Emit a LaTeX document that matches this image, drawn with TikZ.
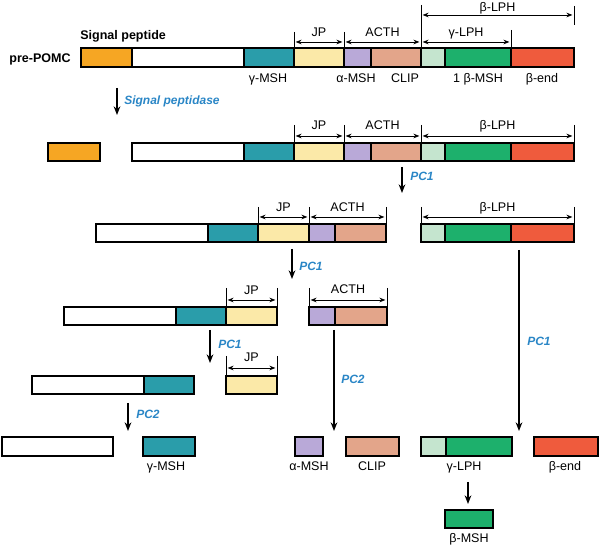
\documentclass[tikz,border=0pt]{standalone}
\usepackage{fontspec}
\setmainfont{Liberation Sans}
\usetikzlibrary{arrows.meta}
\definecolor{cOr}{HTML}{F6A623}
\definecolor{cTe}{HTML}{2A9DAA}
\definecolor{cYe}{HTML}{FBE9A8}
\definecolor{cPu}{HTML}{B9A9D8}
\definecolor{cCl}{HTML}{E3A58A}
\definecolor{cLg}{HTML}{C5E5CF}
\definecolor{cGr}{HTML}{1DB06C}
\definecolor{cRe}{HTML}{EF5B3D}
\definecolor{cBl}{HTML}{2A86C6}
\newcommand\pseg[6]{\node[segbox,fill=#6,minimum width={(#3-#2)*0.75pt},minimum height={(#5-#4)*0.75pt}] (#1) at ({(#2+#3)/2},{(#4+#5)/2}) {};}
\newcommand\dimarr[6]{\coordinate (#1l) at (#2,#4); \coordinate (#1r) at (#3,#4);
  \draw[dimline] (#1l) -- (#1r);
  \node[lbl] (#1t) at ({(#2+#3)/2},#5) {#6};}
\newcommand\dimtick[4]{\coordinate (#1a) at (#2,#3); \coordinate (#1b) at (#2,#4); \draw[tickline] (#1a) -- (#1b);}
\newcommand\procarr[4]{\coordinate (#1s) at (#2,#3); \coordinate (#1e) at (#2,#4); \draw[proc] (#1s) -- (#1e);}
\begin{document}
\begin{tikzpicture}[x=0.75pt,y=-0.75pt,
  segbox/.style={draw=black,line width=1.3pt,rectangle,inner sep=0pt,outer sep=0pt},
  lbl/.style={font=\fontsize{9.4}{11}\selectfont,inner sep=0pt,text height=6.7pt,text depth=0pt},
  blbl/.style={font=\bfseries\fontsize{9.4}{11}\selectfont,inner sep=0pt,text height=6.7pt,text depth=0pt},
  enz/.style={font=\bfseries\itshape\fontsize{9}{11}\selectfont,text=cBl,inner sep=0pt,anchor=west,text height=6.5pt,text depth=0pt},
  dimline/.style={line width=0.6pt,{Stealth[length=4.5pt,width=3.5pt]}-{Stealth[length=4.5pt,width=3.5pt]},shorten <=1.2pt,shorten >=1.2pt},
  tickline/.style={line width=0.45pt},
  proc/.style={line width=0.9pt,-{Stealth[length=6.5pt,width=5pt]}}]
\useasboundingbox (0,0) rectangle (600,548);
% ---------- Row 1: pre-POMC
\pseg{ra}{81}{132}{48}{67}{cOr}
\pseg{rb}{132}{244}{48}{67}{white}
\pseg{rc}{244}{294}{48}{67}{cTe}
\pseg{rd}{294}{344}{48}{67}{cYe}
\pseg{re}{344}{371}{48}{67}{cPu}
\pseg{rf}{371}{421}{48}{67}{cCl}
\pseg{rg}{421}{445}{48}{67}{cLg}
\pseg{rh}{445}{511}{48}{67}{cGr}
\pseg{ri}{511}{574}{48}{67}{cRe}
\node[blbl,anchor=east] (prepomc) at (71,58) {pre-POMC};
\node[blbl,anchor=west] (sigpep) at (80,35) {Signal peptide};
\node[lbl] (l1c) at (268,78) {γ-MSH};
\node[lbl] (l1e) at (356,78) {α-MSH};
\node[lbl] (l1f) at (405,78) {CLIP};
\node[lbl] (l1h) at (478,78) {1 β-MSH};
\node[lbl] (l1i) at (542,78) {β-end};
\dimtick{t1a}{294}{32}{48}
\dimtick{t1b}{344}{32}{48}
\dimtick{t1c}{421}{5}{48}
\dimtick{t1d}{511}{30}{48}
\dimtick{t1e}{574}{6}{25}
\dimarr{d1jp}{294}{344}{42}{32}{JP}
\dimarr{d1ac}{344}{421}{42}{32}{ACTH}
\dimarr{d1gl}{421}{511}{42}{32}{γ-LPH}
\dimarr{d1bl}{421}{574}{15}{7}{β-LPH}
\procarr{p1}{117}{88}{115}
\node[enz] (e1) at (124,100) {Signal peptidase};
% ---------- Row 2
\pseg{sa}{48}{100}{143}{161}{cOr}
\pseg{sb}{132}{244}{143}{161}{white}
\pseg{sc}{244}{294}{143}{161}{cTe}
\pseg{sd}{294}{344}{143}{161}{cYe}
\pseg{se}{344}{371}{143}{161}{cPu}
\pseg{sf}{371}{421}{143}{161}{cCl}
\pseg{sg}{421}{445}{143}{161}{cLg}
\pseg{sh}{445}{511}{143}{161}{cGr}
\pseg{si}{511}{574}{143}{161}{cRe}
\dimtick{t2a}{294}{125}{143}
\dimtick{t2b}{344}{125}{143}
\dimtick{t2c}{421}{125}{143}
\dimtick{t2d}{574}{125}{143}
\dimarr{d2jp}{294}{344}{136}{125}{JP}
\dimarr{d2ac}{344}{421}{136}{125}{ACTH}
\dimarr{d2bl}{421}{574}{136}{125}{β-LPH}
\procarr{p2}{402}{167}{193}
\node[enz] (e2) at (410,176) {PC1};
% ---------- Row 3
\pseg{ua}{96}{208}{224}{242}{white}
\pseg{ub}{208}{258}{224}{242}{cTe}
\pseg{uc}{258}{309}{224}{242}{cYe}
\pseg{ud}{309}{335}{224}{242}{cPu}
\pseg{ue}{335}{386}{224}{242}{cCl}
\pseg{ug}{421}{445}{224}{242}{cLg}
\pseg{uh}{445}{511}{224}{242}{cGr}
\pseg{ui}{511}{574}{224}{242}{cRe}
\dimtick{t3a}{258}{207}{224}
\dimtick{t3b}{309}{207}{224}
\dimtick{t3c}{386}{207}{224}
\dimtick{t3d}{421}{207}{224}
\dimtick{t3e}{574}{207}{224}
\dimarr{d3jp}{258}{309}{217}{207}{JP}
\dimarr{d3ac}{309}{386}{217}{207}{ACTH}
\dimarr{d3bl}{421}{574}{217}{207}{β-LPH}
\procarr{p3}{292}{249}{279}
\node[enz] (e3) at (299,266) {PC1};
\procarr{p4}{519}{250}{431}
\node[enz] (e4) at (527,341) {PC1};
% ---------- Row 4
\pseg{va}{64}{176}{307}{325}{white}
\pseg{vb}{176}{226}{307}{325}{cTe}
\pseg{vc}{226}{277}{307}{325}{cYe}
\pseg{vd}{309}{335}{307}{325}{cPu}
\pseg{ve}{335}{387}{307}{325}{cCl}
\dimtick{t4a}{226}{288}{307}
\dimtick{t4b}{277}{288}{307}
\dimtick{t4c}{309}{288}{307}
\dimtick{t4d}{387}{288}{307}
\dimarr{d4jp}{226}{277}{300}{290}{JP}
\dimarr{d4ac}{309}{387}{300}{289}{ACTH}
\procarr{p5}{210}{330}{363}
\node[enz] (e5) at (218,344) {PC1};
\procarr{p6}{334}{330}{431}
\node[enz] (e6) at (341,379) {PC2};
% ---------- Row 5
\pseg{wa}{32}{144}{376}{394}{white}
\pseg{wb}{144}{194}{376}{394}{cTe}
\pseg{wc}{226}{277}{376}{394}{cYe}
\dimtick{t5a}{226}{356}{376}
\dimtick{t5b}{277}{356}{376}
\dimarr{d5jp}{226}{277}{368}{357}{JP}
\procarr{p7}{128}{403}{431}
\node[enz] (e7) at (136,414) {PC2};
% ---------- Row 6
\pseg{xa}{2}{113}{437}{456}{white}
\pseg{xb}{143}{195}{437}{456}{cTe}
\pseg{xd}{295}{323}{437}{456}{cPu}
\pseg{xe}{346}{399}{437}{456}{cCl}
\pseg{xg}{421}{446}{437}{456}{cLg}
\pseg{xh}{446}{512}{437}{456}{cGr}
\pseg{xi}{534}{598}{437}{456}{cRe}
\node[lbl] (l6b) at (166,466) {γ-MSH};
\node[lbl] (l6d) at (309,466) {α-MSH};
\node[lbl] (l6e) at (372,466) {CLIP};
\node[lbl] (l6g) at (464,466) {γ-LPH};
\node[lbl] (l6i) at (565,466) {β-end};
\procarr{p8}{468}{482}{504}
\pseg{ya}{445}{493}{510}{528}{cGr}
\node[lbl] (l7) at (469,538) {β-MSH};
\end{tikzpicture}
\end{document}
